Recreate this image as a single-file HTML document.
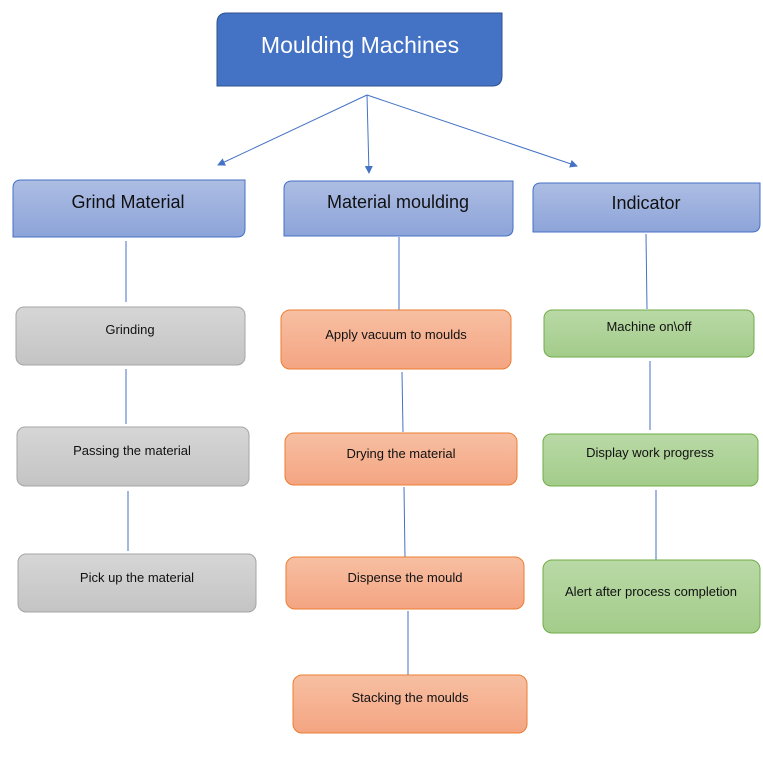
<!DOCTYPE html>
<html><head><meta charset="utf-8"><style>
html,body{margin:0;padding:0;background:#fff;}
svg{display:block;font-family:"Liberation Sans",Calibri,sans-serif;}
</style></head><body>
<svg width="763" height="760" viewBox="0 0 763 760" xmlns="http://www.w3.org/2000/svg">
<defs>
<linearGradient id="hb" x1="0" y1="0" x2="0" y2="1"><stop offset="0" stop-color="#adbde3"/><stop offset="1" stop-color="#8da4d9"/></linearGradient>
<linearGradient id="gr" x1="0" y1="0" x2="0" y2="1"><stop offset="0" stop-color="#d6d6d6"/><stop offset="1" stop-color="#c4c4c4"/></linearGradient>
<linearGradient id="or" x1="0" y1="0" x2="0" y2="1"><stop offset="0" stop-color="#f7bfa2"/><stop offset="1" stop-color="#f4a582"/></linearGradient>
<linearGradient id="gn" x1="0" y1="0" x2="0" y2="1"><stop offset="0" stop-color="#b9d9a6"/><stop offset="1" stop-color="#a3cc8a"/></linearGradient>
<marker id="ar" markerWidth="8" markerHeight="8" refX="7" refY="4" orient="auto" markerUnits="userSpaceOnUse"><path d="M0,0 L8,4 L0,8 Z" fill="#4472c4"/></marker>
</defs>
<!-- top -->
<path d="M227,13 H502 V76 Q502,86 492,86 H217 V23 Q217,13 227,13 Z" fill="#4472c4" stroke="#2f528f" stroke-width="1"/>
<text x="360" y="53" font-size="23" fill="#fff" text-anchor="middle">Moulding Machines</text>
<g stroke="#4472c4" stroke-width="1" fill="none">
<line x1="367" y1="95" x2="218" y2="165" marker-end="url(#ar)"/>
<line x1="367" y1="95" x2="369" y2="173" marker-end="url(#ar)"/>
<line x1="367" y1="95" x2="577" y2="166" marker-end="url(#ar)"/>
</g>
<!-- headers -->
<g stroke="#4472c4" stroke-width="1" fill="url(#hb)">
<path d="M21,180 H245 V229 Q245,237 237,237 H13 V188 Q13,180 21,180 Z"/>
<path d="M292,181 H513 V228 Q513,236 505,236 H284 V189 Q284,181 292,181 Z"/>
<path d="M541,183 H760 V224 Q760,232 752,232 H533 V191 Q533,183 541,183 Z"/>
</g>
<g font-size="18" fill="#111" text-anchor="middle">
<text x="128" y="208">Grind Material</text>
<text x="398" y="208">Material moulding</text>
<text x="646" y="209">Indicator</text>
</g>
<!-- connectors -->
<g stroke="#4472c4" stroke-width="1">
<line x1="126" y1="241" x2="126" y2="302"/>
<line x1="126" y1="369" x2="126" y2="424"/>
<line x1="128" y1="491" x2="128" y2="551"/>
<line x1="399" y1="237" x2="399" y2="310"/>
<line x1="402" y1="372" x2="403" y2="432"/>
<line x1="404" y1="487" x2="405" y2="557"/>
<line x1="408" y1="611" x2="408" y2="675"/>
<line x1="646" y1="234" x2="647" y2="309"/>
<line x1="650" y1="361" x2="650" y2="430"/>
<line x1="656" y1="490" x2="656" y2="560"/>
</g>
<!-- gray -->
<g stroke="#a5a5a5" stroke-width="1" fill="url(#gr)">
<rect x="16" y="307" width="229" height="58" rx="8"/>
<rect x="17" y="427" width="232" height="59" rx="8"/>
<rect x="18" y="554" width="238" height="58" rx="8"/>
</g>
<!-- orange -->
<g stroke="#ed7d31" stroke-width="1" fill="url(#or)">
<rect x="281" y="310" width="230" height="59" rx="9"/>
<rect x="285" y="433" width="232" height="52" rx="9"/>
<rect x="286" y="557" width="238" height="52" rx="9"/>
<rect x="293" y="675" width="234" height="58" rx="9"/>
</g>
<!-- green -->
<g stroke="#70ad47" stroke-width="1" fill="url(#gn)">
<rect x="544" y="310" width="210" height="47" rx="8"/>
<rect x="543" y="434" width="215" height="52" rx="8"/>
<rect x="543" y="560" width="217" height="73" rx="9"/>
</g>
<g font-size="13" fill="#111" text-anchor="middle">
<text x="130" y="334">Grinding</text>
<text x="132" y="455">Passing the material</text>
<text x="137" y="582">Pick up the material</text>
<text x="396" y="339">Apply vacuum to moulds</text>
<text x="401" y="458">Drying the material</text>
<text x="405" y="582">Dispense the mould</text>
<text x="410" y="702">Stacking the moulds</text>
<text x="649" y="331">Machine on\off</text>
<text x="650" y="457">Display work progress</text>
<text x="651" y="596">Alert after process completion</text>
</g>
</svg>
</body></html>
